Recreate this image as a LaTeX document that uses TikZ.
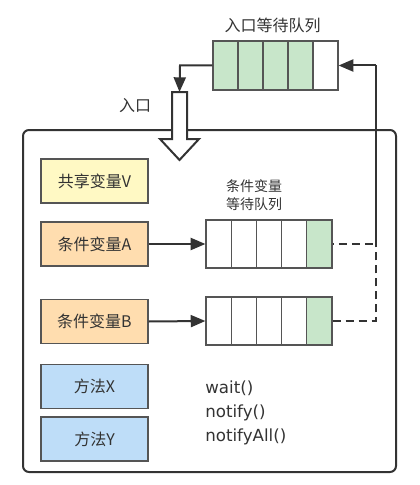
\documentclass[tikz,border=0pt]{standalone}
\usepackage{fontspec}
\setmainfont{Noto Sans CJK SC}
\newfontfamily\cjk{Noto Sans CJK SC}
\newfontfamily\codefont{DejaVu Sans}
\usetikzlibrary{arrows.meta}
\definecolor{ink}{HTML}{333333}
\definecolor{boxline}{HTML}{555555}
\definecolor{yelfill}{HTML}{FFF9C4}
\definecolor{orgfill}{HTML}{FFDDAF}
\definecolor{bluefill}{HTML}{BEDDF8}
\definecolor{grnfill}{HTML}{C8E6CA}
\begin{document}
\begin{tikzpicture}[x=0.75pt,y=-0.75pt,
  box/.style={draw=boxline, line width=0.9pt, minimum width=80.25pt, minimum height=33pt,
    inner sep=0pt, font=\cjk\fontsize{12}{14}\selectfont, text=ink},
  cellT/.style={draw=boxline, line width=0.9pt, minimum width=18.75pt, minimum height=36.75pt, inner sep=0pt},
  cellQ/.style={draw=boxline, line width=0.9pt, minimum width=18.9pt, minimum height=36pt, inner sep=0pt},
  conn/.style={draw=ink, line width=1.5pt, -{Triangle[length=11pt,width=9pt]}},
  dashconn/.style={draw=ink, line width=1.5pt, dash pattern=on 6pt off 3.75pt},
  lbl/.style={font=\cjk\fontsize{12}{14}\selectfont, text=ink, inner sep=0pt},
  smalllbl/.style={font=\cjk\fontsize{10.5}{13.5}\selectfont, text=ink, inner sep=0pt, align=center}
]
\useasboundingbox (0,0) rectangle (420,485);

% container
\draw[draw=ink, line width=1.5pt, rounded corners=4.5pt] (23,130) rectangle (396,472);

% labels
\node[lbl] (lblTop) at (272.5,25) {入口等待队列};
\node[lbl] (lblIn) at (135,106) {入口};
\node[smalllbl] (lblQ) at (254,195) {条件变量\\等待队列};

% left boxes
\node[box, fill=yelfill] (boxV) at (94.5,181) {共享变量V};
\node[box, fill=orgfill] (boxA) at (94.5,244) {条件变量A};
\node[box, fill=orgfill] (boxB) at (94.5,321.5) {条件变量B};
\node[box, fill=bluefill] (boxX) at (94.5,386.5) {方法X};
\node[box, fill=bluefill] (boxY) at (94.5,439) {方法Y};

% top queue
\foreach \i in {0,...,3}
  \node[cellT, fill=grnfill] (qT\i) at (225.5+25*\i,65.5) {};
\node[cellT, fill=white] (qT4) at (325.5,65.5) {};

% queue A and B
\foreach \i in {0,...,3} {
  \node[cellQ, fill=white] (qA\i) at (218.6+25.2*\i,244) {};
  \node[cellQ, fill=white] (qB\i) at (218.6+25.2*\i,321) {};
}
\node[cellQ, fill=grnfill] (qA4) at (319.4,244) {};
\node[cellQ, fill=grnfill] (qB4) at (319.4,321) {};

% methods text
\node[anchor=west, align=left, inner sep=0pt, text=ink,
  font=\codefont\fontsize{12.5}{18}\selectfont] (methods) at (205,413)
  {wait()\\notify()\\notifyAll()};

% coordinates
\coordinate (dA) at (376,244);
\coordinate (dB) at (376,321);
\coordinate (dT) at (376,65.5);
\coordinate (bend) at (180,65.5);
\coordinate (bigTop) at (179.5,92);

% big hollow arrow
\draw[draw=ink, line width=1.5pt, fill=white, line join=miter]
  (172,92) -- (172,139) -- (160,139) -- (179.5,160) -- (199,139) -- (187,139) -- (187,92) -- cycle;

% connectors
\draw[conn] (qT0.west) -- (bend) -- (bigTop);
\draw[conn] (boxA.east) -- (qA0.west);
\draw[conn] (boxB.east) -- (qB0.west);
\draw[dashconn] (qB4.east) -- (dB) -- (dA) -- (dT);
\draw[dashconn, dash phase=5pt] (qA4.east) -- (dA) -- (dT);
\draw[conn] (dT) -- (qT4.east);
\end{tikzpicture}
\end{document}
